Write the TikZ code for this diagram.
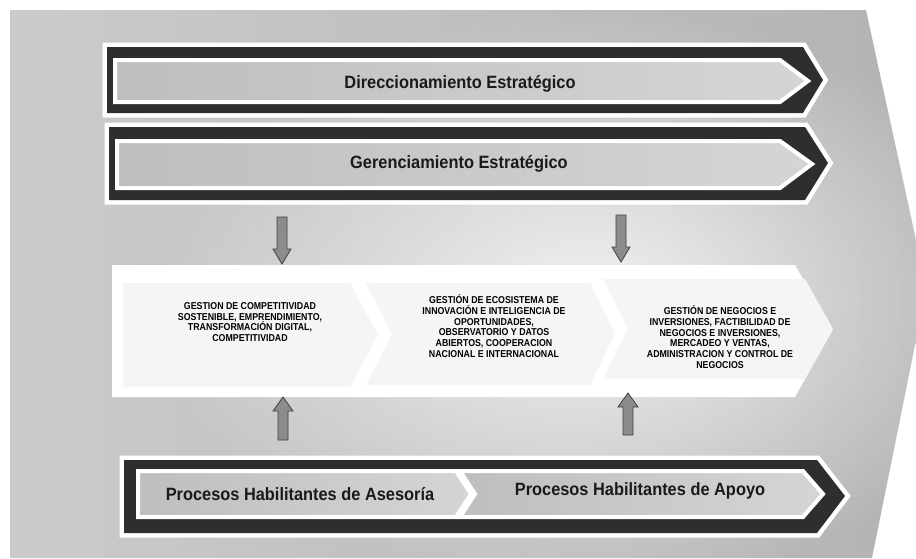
\documentclass[tikz,border=0pt]{standalone}
\usepackage{fontspec}
\setmainfont{Liberation Sans}
\newfontfamily\condfont{Liberation Sans}[FakeStretch=0.88]
\newfontfamily\bannerfont{Liberation Sans}[FakeStretch=0.92]
\usetikzlibrary{fadings}
\tikzfading[name=glowfade, inner color=transparent!0, outer color=transparent!100]
\definecolor{paperL}{HTML}{CBCBCB}
\definecolor{paperR}{HTML}{B3B3B3}
\definecolor{bandDark}{HTML}{2E2E2E}
\definecolor{bandL}{HTML}{BEBEBE}
\definecolor{bandR}{HTML}{D5D5D5}
\definecolor{ghostGrey}{HTML}{F5F5F5}
\definecolor{arrowGrey}{HTML}{8C8C8C}
\definecolor{arrowEdge}{HTML}{404040}
\definecolor{textDark}{HTML}{1A1A1A}
\begin{document}
\begin{tikzpicture}[x=1pt,y=-1pt,
  outerwhite/.style={draw=white, line width=9pt, line join=miter},
  outerdark/.style={fill=bandDark},
  innerband/.style={draw=white, line width=4pt, line join=miter, left color=bandL, right color=bandR},
  bannertext/.style={font=\bannerfont\fontsize{17.8}{20}\selectfont\bfseries, text=textDark, inner sep=0pt},
  midtext/.style={font=\condfont\fontsize{10}{10.7}\selectfont\bfseries, align=center, text=black, inner sep=0pt},
  blockarrow/.style={fill=arrowGrey, draw=arrowEdge, line width=0.8pt, line join=miter},
  ghost/.style={fill=ghostGrey}
]
\useasboundingbox (0,0) rectangle (916,558);
% background: photographed sheet
\fill[white] (0,0) rectangle (916,558);
\shade[left color=paperL, right color=paperR]
  (10,10) -- (866,10) -- (916,240) -- (916,340) -- (872,558) -- (10,558) -- cycle;
\begin{scope}
  \clip (10,10) -- (866,10) -- (916,240) -- (916,340) -- (872,558) -- (10,558) -- cycle;
  \fill[white, path fading=glowfade, fill opacity=0.8] (590,300) ellipse [x radius=440pt, y radius=290pt];
\end{scope}

% banner 1
\draw[outerwhite] (107,47) -- (803,47) -- (823,80) -- (803,113) -- (107,113) -- cycle;
\fill[outerdark] (107,47) -- (803,47) -- (823,80) -- (803,113) -- (107,113) -- cycle;
\path[innerband] (115,60) -- (780,60) -- (808,81) -- (780,102) -- (115,102) -- cycle;
\node[bannertext] (dir) at (460,84) {Direccionamiento Estratégico};

% banner 2
\draw[outerwhite] (109,127) -- (805,127) -- (828,163) -- (805,200) -- (109,200) -- cycle;
\fill[outerdark] (109,127) -- (805,127) -- (828,163) -- (805,200) -- (109,200) -- cycle;
\path[innerband] (117,141) -- (780,141) -- (812,164) -- (780,188) -- (117,188) -- cycle;
\node[bannertext] (ger) at (459,164) {Gerenciamiento Estratégico};

% middle band
\fill[white] (112,265) -- (795,265) -- (832,331) -- (795,397) -- (112,397) -- cycle;
\fill[ghost] (123,283) -- (350,283) -- (378,335) -- (350,387) -- (123,387) -- cycle;
\fill[ghost] (366,283) -- (590,283) -- (615,333) -- (590,385) -- (366,385) -- (392,334) -- cycle;
\fill[ghost] (603,279) -- (805,279) -- (833,329) -- (805,379) -- (603,379) -- (628,329) -- cycle;
\node[midtext] (b1) at (250,322) {GESTION DE COMPETITIVIDAD\\SOSTENIBLE, EMPRENDIMIENTO,\\TRANSFORMACIÓN DIGITAL,\\COMPETITIVIDAD};
\node[midtext] (b2) at (494,326) {GESTIÓN DE ECOSISTEMA DE\\INNOVACIÓN E INTELIGENCIA DE\\OPORTUNIDADES,\\OBSERVATORIO Y DATOS\\ABIERTOS, COOPERACION\\NACIONAL E INTERNACIONAL};
\node[midtext] (b3) at (720,337) {GESTIÓN DE NEGOCIOS E\\INVERSIONES, FACTIBILIDAD DE\\NEGOCIOS E INVERSIONES,\\MERCADEO Y VENTAS,\\ADMINISTRACION Y CONTROL DE\\NEGOCIOS};

% block arrows
\draw[blockarrow] (277,217) -- (287,217) -- (287,249) -- (291,249) -- (282,264) -- (273,249) -- (277,249) -- cycle;
\draw[blockarrow] (616,215) -- (626,215) -- (626,247) -- (630,247) -- (621,262) -- (612,247) -- (616,247) -- cycle;
\draw[blockarrow] (278,440) -- (288,440) -- (288,411) -- (293,411) -- (283,397) -- (273,411) -- (278,411) -- cycle;
\draw[blockarrow] (623,435) -- (633,435) -- (633,407) -- (638,407) -- (628,393) -- (618,407) -- (623,407) -- cycle;

% bottom banner
\draw[outerwhite] (124,460) -- (817,460) -- (845,496) -- (817,533) -- (124,533) -- cycle;
\fill[outerdark] (124,460) -- (817,460) -- (845,496) -- (817,533) -- (124,533) -- cycle;
\path[innerband] (138,471) -- (456,471) -- (471,494) -- (456,517) -- (138,517) -- cycle;
\path[innerband] (460,471) -- (803,471) -- (823,494) -- (803,517) -- (460,517) -- (475,494) -- cycle;
\node[bannertext] (ase) at (300,494) {Procesos Habilitantes de Asesoría};
\node[bannertext] (apo) at (640,491) {Procesos Habilitantes de Apoyo};
\end{tikzpicture}
\end{document}
